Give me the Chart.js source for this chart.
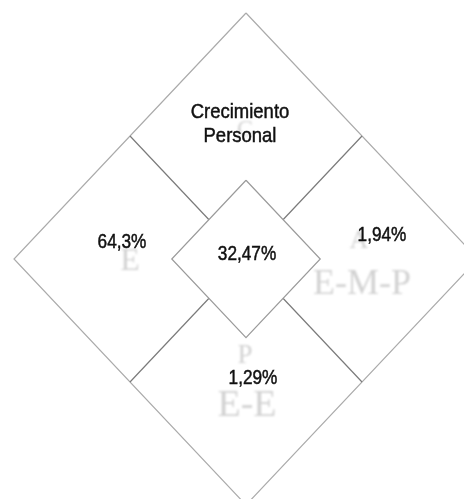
<!DOCTYPE html>
<html>
<head>
<meta charset="utf-8">
<script src="https://cdn.jsdelivr.net/npm/chart.js@4.4.0/dist/chart.umd.min.js"></script>
<style>
  html, body { margin: 0; padding: 0; background: #fff; }
  #wrap { width: 464px; height: 499px; }
</style>
</head>
<body>
<div id="wrap"><canvas id="chart" width="464" height="499"></canvas></div>
<script>
// Regions of the diamond: top, left, right, bottom, centre
const regions = ['top', 'left', 'right', 'bottom', 'centre'];
const titles = ['Crecimiento Personal', null, null, null, null];
const values = [null, 64.3, 1.94, 1.29, 32.47];
const decimals = [0, 1, 2, 2, 2];
const letters = [['C'], ['E'], ['A', 'E-M-P'], ['P', 'E-E'], []];

// geometry in diamond units (outer diamond has half-diagonal 1)
const centreSize = 0.32;
const regionCentres = { top: [0, 0.5], left: [-0.5, 0], right: [0.5, 0], bottom: [0, -0.5], centre: [0, 0] };

// where the outer diamond sits on the canvas
const W = 464, H = 499, cx = 246, cy = 259, rx = 232, ry = 246;

// label nudges in pixels (dx, dy) relative to region centre
const labelOffset = { top: [-6, -12], left: [-8, -17], right: [20, -24], bottom: [7, -4], centre: [1, -5] };
const letterStyle = {
    top:    [[-1, -6, 24]],
    left:   [[0, 3, 32]],
    right:  [[-3, -18, 26], [0, 26, 36]],
    bottom: [[-1, -26, 27], [1, 24, 38]],
    centre: []
};

function fmt(v, d) {
    return v.toFixed(d).replace('.', ',') + '%';
}

const outer = [{x: 0, y: 1}, {x: 1, y: 0}, {x: 0, y: -1}, {x: -1, y: 0}, {x: 0, y: 1}];
const divA = [{x: -0.5, y: 0.5}, {x: 0.5, y: -0.5}];
const divB = [{x: 0.5, y: 0.5}, {x: -0.5, y: -0.5}];
const c = centreSize;
const inner = [{x: 0, y: c}, {x: c, y: 0}, {x: 0, y: -c}, {x: -c, y: 0}, {x: 0, y: c}];

const labelPlugin = {
    id: 'diamondLabels',
    afterDatasetsDraw(chart) {
        const ctx = chart.ctx;
        const xs = chart.scales.x, ys = chart.scales.y;
        ctx.save();
        ctx.textAlign = 'center';
        ctx.textBaseline = 'middle';

        // faint serif letters behind the labels
        regions.forEach((r, i) => {
            const px = xs.getPixelForValue(regionCentres[r][0]);
            const py = ys.getPixelForValue(regionCentres[r][1]);
            letters[i].forEach((txt, j) => {
                const s = letterStyle[r][j];
                ctx.save();
                ctx.filter = 'blur(0.9px)';
                ctx.fillStyle = '#d2d2d2';
                ctx.font = s[2] + 'px "Liberation Serif", "DejaVu Serif", serif';
                ctx.fillText(txt, px + s[0], py + s[1]);
                ctx.restore();
            });
        });

        // black labels, narrow sans (slightly emboldened)
        const drawNarrow = (txt, x, y, sx) => {
            ctx.save();
            ctx.translate(x, y);
            ctx.scale(sx, 1);
            ctx.fillText(txt, 0, 0);
            ctx.strokeText(txt, 0, 0);
            ctx.restore();
        };
        ctx.fillStyle = '#111';
        ctx.strokeStyle = '#111';
        ctx.lineWidth = 0.5;
        ctx.font = '21px "Liberation Sans", Arial, sans-serif';
        regions.forEach((r, i) => {
            const px = xs.getPixelForValue(regionCentres[r][0]) + labelOffset[r][0];
            const py = ys.getPixelForValue(regionCentres[r][1]) + labelOffset[r][1];
            if (titles[i]) {
                const parts = titles[i].split(' ');
                drawNarrow(parts[0], px, py - 12, 0.88);
                drawNarrow(parts[1], px, py + 12, 0.88);
            } else if (values[i] !== null) {
                drawNarrow(fmt(values[i], decimals[i]), px, py, 0.82);
            }
        });
        ctx.restore();
    }
};

const lineDs = (data, color, order) => ({
    data: data,
    showLine: true,
    borderColor: color,
    borderWidth: 1.2,
    pointRadius: 0,
    fill: false,
    order: order
});

new Chart(document.getElementById('chart'), {
    type: 'scatter',
    data: {
        datasets: [
            Object.assign(lineDs(inner, '#9a9a9a', 0), { fill: 'shape', backgroundColor: '#ffffff' }),
            lineDs(divA, '#7a7a7a', 1),
            lineDs(divB, '#7a7a7a', 2),
            lineDs(outer, '#ababab', 3)
        ]
    },
    options: {
        responsive: false,
        animation: false,
        layout: { padding: 0 },
        plugins: { legend: { display: false }, tooltip: { enabled: false } },
        scales: {
            x: { display: false, min: -cx / rx, max: (W - cx) / rx },
            y: { display: false, min: -(H - cy) / ry, max: cy / ry }
        }
    },
    plugins: [labelPlugin]
});
</script>
</body>
</html>
